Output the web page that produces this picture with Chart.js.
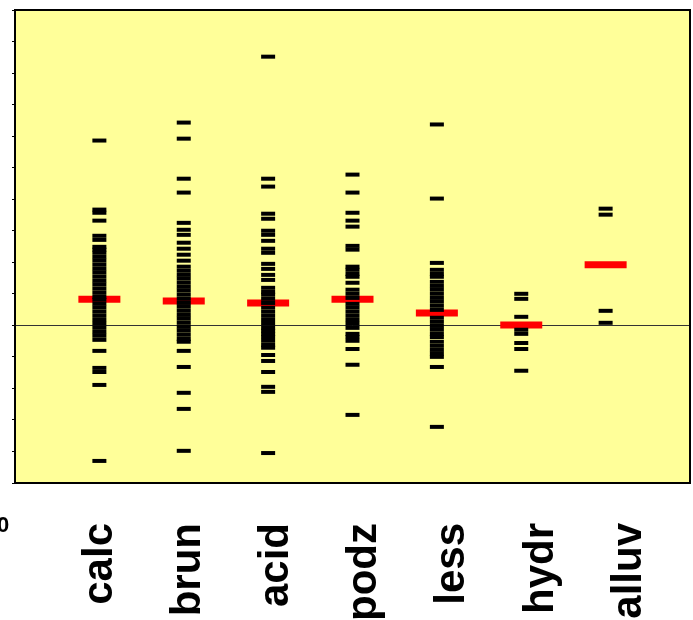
<!DOCTYPE html>
<html lang="en">
  <head>
    <meta charset="UTF-8" />
    <title>calc brun acid podz less hydr alluv</title>
    <script src="https://cdn.jsdelivr.net/npm/chart.js"></script>
    <style>
      html, body { margin: 0; padding: 0; background: #ffffff; }
      #wrap { width: 693px; height: 620px; position: relative; }
    </style>
  </head>
  <body>
    <div id="wrap"><canvas id="soilChart"></canvas></div>

    <script>
      // categories along the x axis
      const categories = ["calc", "brun", "acid", "podz", "less", "hydr", "alluv"];

      // individual values per group (black dashes)
      const calc = [5.86, 3.67, 3.57, 3.32, 2.84, 2.71, 2.49, 2.40, 2.30, 2.17, 2.05, 1.92,
        1.79, 1.67, 1.54, 1.41, 1.29, 1.16, 1.03, 0.90, 0.81, 0.68, 0.56, 0.43, 0.30,
        0.17, 0.05, -0.08, -0.21, -0.33, -0.46, -0.81, -1.35, -1.48, -1.89, -4.30];
      const brun = [6.43, 5.92, 4.65, 4.21, 3.25, 3.03, 2.87, 2.62, 2.43, 2.24, 2.05, 1.86,
        1.73, 1.60, 1.48, 1.35, 1.22, 1.10, 0.97, 0.84, 0.71, 0.59, 0.46, 0.33, 0.21,
        0.08, -0.05, -0.17, -0.30, -0.43, -0.52, -0.81, -1.32, -2.14, -2.65, -3.98];
      const acid = [8.52, 4.65, 4.40, 3.54, 3.38, 3.00, 2.87, 2.68, 2.43, 2.30, 1.95, 1.79,
        1.60, 1.44, 1.19, 1.06, 0.97, 0.84, 0.71, 0.56, 0.43, 0.30, 0.17, 0.05, -0.08,
        -0.17, -0.27, -0.37, -0.49, -0.62, -0.71, -0.94, -1.13, -1.48, -1.95, -2.11, -4.05];
      const podz = [4.78, 4.21, 3.57, 3.32, 3.13, 2.52, 2.40, 1.86, 1.76, 1.63, 1.54, 1.35,
        1.13, 1.00, 0.87, 0.68, 0.56, 0.43, 0.30, 0.17, 0.05, -0.08, -0.27, -0.37,
        -0.49, -0.75, -1.25, -2.84];
      const less = [6.37, 4.02, 1.98, 1.76, 1.63, 1.54, 1.38, 1.25, 1.13, 1.00, 0.87, 0.75,
        0.62, 0.49, 0.24, 0.11, -0.02, -0.14, -0.27, -0.37, -0.52, -0.65, -0.78, -0.90,
        -1.00, -1.32, -3.22];
      const hydr = [1.00, 0.84, 0.27, -0.14, -0.27, -0.56, -0.75, -1.44];
      const alluv = [3.70, 3.51, 0.46, 0.08];

      // group means (red bars)
      const means = [0.83, 0.77, 0.71, 0.83, 0.39, 0.01, 1.92];

      // y axis range and tick step
      const yMin = -5;
      const yMax = 10;
      const yStep = 1;

      const groups = [calc, brun, acid, podz, less, hydr, alluv];
      const valuePoints = [];
      groups.forEach((vals, i) => {
        vals.forEach((v) => valuePoints.push({ x: i + 1, y: v }));
      });
      const meanPoints = means.map((m, i) => ({ x: i + 1, y: m }));

      // yellow plot background + black frame + stray "0"
      const framePlugin = {
        id: "frame",
        beforeDraw(chart) {
          const { ctx, chartArea: a } = chart;
          ctx.save();
          ctx.fillStyle = "#ffff99";
          ctx.fillRect(a.left, a.top, a.right - a.left, a.bottom - a.top);
          ctx.restore();
        },
        afterDraw(chart) {
          const { ctx, chartArea: a } = chart;
          ctx.save();
          ctx.strokeStyle = "#000000";
          ctx.lineWidth = 2;
          ctx.strokeRect(a.left, a.top, a.right - a.left, a.bottom - a.top);
          ctx.fillStyle = "#000000";
          ctx.font = "bold 22px 'Liberation Sans', Arial, sans-serif";
          ctx.textAlign = "left";
          ctx.textBaseline = "alphabetic";
          ctx.fillText("0", -3, 532);
          ctx.restore();
        },
      };

      const ctx = document.getElementById("soilChart").getContext("2d");
      const soilChart = new Chart(ctx, {
        type: "scatter",
        data: {
          datasets: [
            {
              label: "values",
              data: valuePoints,
              pointStyle: "line",
              pointRadius: 7,
              pointBorderWidth: 4,
              borderColor: "#000000",
              backgroundColor: "#000000",
            },
            {
              label: "mean",
              data: meanPoints,
              pointStyle: "line",
              pointRadius: 21,
              pointBorderWidth: 7,
              borderColor: "#ff0000",
              backgroundColor: "#ff0000",
            },
          ],
        },
        options: {
          responsive: true,
          maintainAspectRatio: false,
          animation: false,
          events: [],
          layout: {
            autoPadding: false,
            padding: { top: 10, right: 3, left: 0, bottom: 0 },
          },
          plugins: {
            legend: { display: false },
            tooltip: { enabled: false },
          },
          scales: {
            x: {
              type: "linear",
              display: false,
              min: 0,
              max: categories.length + 1,
            },
            // label axis: the category names sit slightly wider apart than the columns
            xLabels: {
              type: "linear",
              position: "bottom",
              min: 0.036,
              max: 7.69,
              afterBuildTicks(scale) {
                scale.ticks = categories.map((c, i) => ({ value: i + 1 }));
              },
              afterFit(scale) {
                scale.height = 137;
                scale.paddingLeft = 0;
                scale.paddingRight = 0;
              },
              grid: { display: false },
              border: { display: false },
              ticks: {
                minRotation: 90,
                maxRotation: 90,
                padding: 32,
                color: "#000000",
                font: {
                  family: "'Liberation Sans', Arial, sans-serif",
                  size: 42,
                  weight: "bold",
                },
                callback: (v) => categories[v - 1] || "",
              },
            },
            y: {
              min: yMin,
              max: yMax,
              afterFit(scale) {
                scale.width = 15;
                scale.paddingTop = 0;
                scale.paddingBottom = 0;
              },
              border: { display: false },
              grid: {
                drawOnChartArea: true,
                drawTicks: true,
                tickLength: 3,
                tickColor: "#000000",
                lineWidth: 1,
                color: (c) => (c.tick && c.tick.value === 0 ? "#333333" : "rgba(0,0,0,0)"),
              },
              ticks: {
                stepSize: yStep,
                display: false,
              },
            },
          },
        },
        plugins: [framePlugin],
      });
    </script>
  </body>
</html>
